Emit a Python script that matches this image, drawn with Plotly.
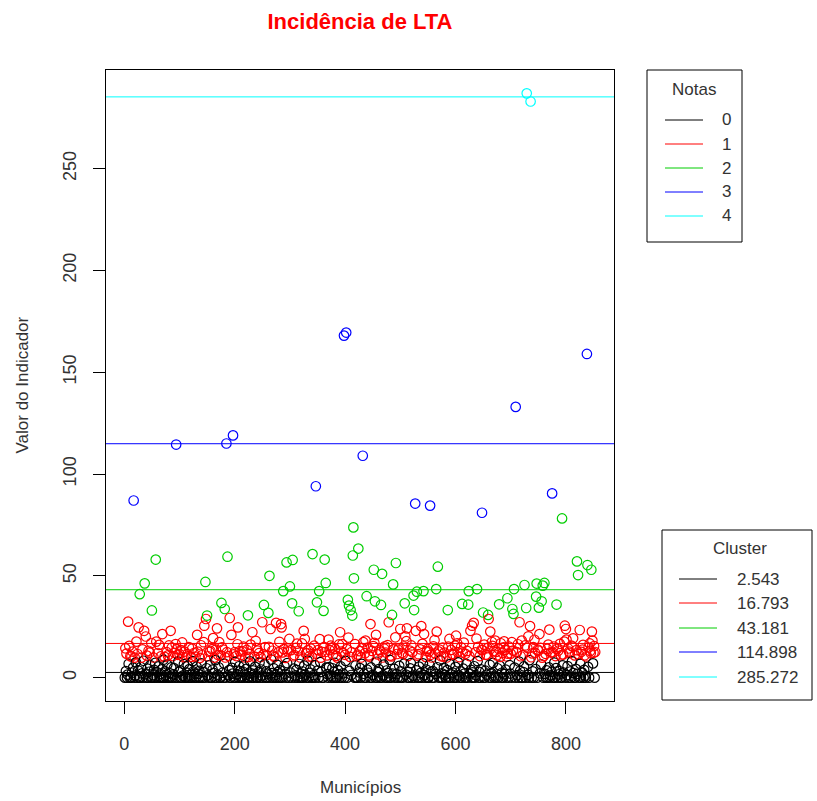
import plotly.graph_objects as go

# ---------------------------------------------------------------
# Incidência de LTA por município (853 municípios), agrupada em
# 5 clusters (k-means).  Cada cluster é uma lista de pares
# (índice do município, valor do indicador); o cluster 0 guarda só
# os valores, distribuídos nos índices que sobram em ordem.
# ---------------------------------------------------------------
N_MUNICIPIOS = 853

notas = ["0", "1", "2", "3", "4"]
centros = [2.543, 16.793, 43.181, 114.898, 285.272]
cores = ["#000000", "#FF0000", "#00CD00", "#0000FF", "#00FFFF"]

ciano = [(729, 287.0), (736, 283.0)]

azul = [(17, 87.0), (94, 114.5), (185, 115.0), (197, 119.0), (347, 94.0),
        (398, 168.0), (402, 169.5), (432, 109.0), (527, 85.5), (554, 84.5),
        (648, 81.0), (709, 133.0), (775, 90.5), (838, 159.0)]

verde = [(28, 41.0), (37, 46.3), (50, 33.0), (57, 58.0), (147, 47.0),
         (150, 30.5), (176, 36.7), (182, 33.7), (187, 59.4), (224, 30.6),
         (253, 35.7), (261, 31.8), (263, 50.0), (288, 42.5), (294, 56.6),
         (300, 44.8), (304, 36.5), (305, 57.8), (316, 32.6), (341, 60.7),
         (349, 37.0), (353, 42.5), (361, 32.8), (363, 58.0), (365, 46.5),
         (405, 38.2), (407, 35.4), (410, 33.2), (413, 30.5), (414, 60.0),
         (415, 73.8), (416, 48.8), (424, 63.4), (439, 40.0), (452, 53.0),
         (454, 37.5), (465, 35.7), (467, 51.0), (485, 30.8), (487, 45.8),
         (492, 56.3), (508, 36.5), (524, 40.3), (525, 33.2), (530, 42.2),
         (542, 42.5), (565, 43.5), (568, 54.5), (586, 33.2), (612, 36.2),
         (623, 35.9), (624, 42.5), (639, 43.5), (650, 32.0), (659, 30.8),
         (679, 36.0), (694, 39.0), (703, 33.7), (705, 31.3), (706, 43.5),
         (725, 45.5), (728, 34.2), (746, 39.8), (747, 46.2), (751, 34.4),
         (756, 37.5), (758, 45.2), (761, 46.5), (783, 35.9), (793, 78.2),
         (820, 57.1), (822, 50.4), (839, 55.3), (846, 53.0)]

vermelho = [
    (2, 14.4), (4, 11.8), (7, 27.5), (9, 15.6), (11, 10.5), (13, 10.4),
    (15, 12.8), (19, 9.8), (22, 17.7), (24, 11.6), (26, 24.7), (31, 9.8),
    (33, 13.9), (36, 23.0), (39, 20.2), (41, 10.8), (44, 13.2), (46, 12.3),
    (49, 17.0), (53, 9.9), (58, 17.7), (61, 12.1), (63, 16.1), (66, 10.4),
    (69, 21.4), (73, 10.2), (77, 12.5), (79, 10.9), (81, 15.8), (84, 23.0),
    (86, 14.7), (88, 10.6), (91, 12.2), (93, 16.5), (95, 14.0), (97, 11.2),
    (100, 11.6),
    (103, 13.5), (105, 17.3), (107, 10.0), (109, 12.8), (112, 10.0),
    (114, 11.5), (117, 15.0), (121, 10.2), (123, 14.2), (126, 12.0),
    (129, 10.3), (132, 21.0), (133, 12.8), (137, 9.7), (139, 15.9),
    (141, 11.0), (144, 17.4), (145, 25.5), (148, 28.8), (152, 10.5),
    (154, 12.7), (156, 13.1), (159, 14.0), (161, 19.4), (163, 9.8),
    (166, 13.8), (168, 24.2), (170, 11.1), (172, 17.4), (175, 10.9),
    (177, 14.9), (179, 13.8), (183, 9.9), (186, 12.5), (189, 10.6),
    (191, 29.3), (194, 21.0), (198, 11.4), (200, 12.5),
    (203, 10.6), (205, 16.4), (206, 24.7), (209, 13.0), (212, 11.2),
    (214, 12.9), (216, 15.2), (219, 9.9), (222, 13.6), (225, 10.2),
    (227, 11.5), (229, 16.2), (232, 22.3), (236, 10.3), (238, 18.1),
    (240, 14.5), (242, 13.3), (244, 12.0), (247, 10.1), (250, 27.2),
    (252, 11.4), (255, 15.0), (258, 11.1), (262, 15.1), (265, 23.9),
    (268, 13.2), (270, 10.8), (272, 10.1), (275, 26.9), (279, 12.4),
    (281, 17.6), (284, 26.3), (285, 24.7), (287, 12.4), (289, 14.0),
    (292, 9.7), (296, 12.9), (297, 14.3), (299, 19.0), (302, 13.5),
    (306, 10.5), (308, 11.1), (311, 14.6), (313, 16.7), (315, 13.2),
    (319, 9.9),
    (322, 16.8), (325, 23.0), (327, 19.0), (329, 11.9), (331, 12.1),
    (333, 13.4), (335, 10.4), (338, 14.2), (340, 10.1), (344, 15.7),
    (348, 11.7), (351, 13.5), (354, 18.9), (356, 9.8), (358, 12.7),
    (362, 15.0), (364, 12.6), (367, 10.9), (370, 18.7), (372, 13.5),
    (374, 15.7), (376, 14.8), (378, 11.3), (382, 14.1), (384, 10.7),
    (386, 9.8), (389, 16.3), (391, 22.3), (393, 12.8), (395, 16.5),
    (397, 12.1), (400, 11.2),
    (403, 14.0), (406, 19.7), (409, 10.2), (412, 12.6), (418, 16.5),
    (421, 10.5), (423, 11.3), (426, 13.0), (429, 9.9), (431, 14.5),
    (433, 17.4), (436, 12.0), (437, 18.2), (441, 14.7), (443, 10.9),
    (444, 10.3), (446, 26.3), (449, 13.1), (451, 15.5), (453, 17.1),
    (456, 21.0), (459, 11.4), (462, 13.6), (464, 12.8), (468, 9.9),
    (471, 14.2), (472, 15.4), (474, 12.3), (477, 16.0), (479, 27.2),
    (482, 10.8), (484, 10.4), (488, 13.9), (491, 19.8), (494, 11.6),
    (496, 13.7), (497, 14.4),
    (500, 23.9), (503, 12.2), (505, 11.6), (506, 15.3), (509, 20.3),
    (511, 17.9), (512, 24.2), (514, 10.7), (517, 13.3), (520, 15.8),
    (522, 12.5), (528, 23.0), (531, 10.8), (533, 11.5), (536, 13.9),
    (538, 25.3), (540, 16.6), (543, 21.4), (546, 10.2), (548, 13.1),
    (549, 14.1), (552, 12.8), (555, 11.2), (557, 9.9), (560, 15.4),
    (562, 18.4), (563, 11.9), (566, 22.6), (569, 12.9), (571, 13.8),
    (574, 10.5), (577, 14.8), (578, 10.3), (580, 12.3), (584, 9.9),
    (587, 15.2), (589, 19.0), (592, 13.6), (594, 11.7), (596, 11.2),
    (599, 15.7),
    (601, 20.6), (603, 16.9), (604, 12.5), (607, 10.1), (610, 14.9),
    (613, 12.3), (615, 17.2), (618, 11.7), (621, 13.1), (625, 10.6),
    (627, 23.0), (630, 25.5), (633, 26.9), (636, 12.4), (638, 19.2),
    (641, 15.1), (644, 10.6), (647, 13.7), (649, 13.5), (652, 16.2),
    (655, 11.3), (657, 11.1), (658, 14.5), (660, 28.8), (663, 22.6),
    (666, 17.5), (667, 15.6), (669, 12.9), (672, 18.2), (674, 12.7),
    (675, 10.9), (678, 14.2), (681, 10.2), (682, 16.9), (685, 12.1),
    (687, 14.9), (688, 17.8), (690, 13.6), (693, 10.4), (695, 11.8),
    (697, 15.2), (700, 11.8),
    (702, 17.4), (704, 13.3), (710, 12.6), (711, 12.5), (713, 16.4),
    (716, 27.2), (718, 10.5), (720, 18.2), (722, 11.1), (726, 15.8),
    (730, 14.7), (732, 20.3), (735, 25.3), (737, 10.0), (739, 11.9),
    (741, 15.0), (743, 18.6), (744, 12.2), (749, 13.8), (750, 13.2),
    (752, 21.4), (754, 14.6), (757, 9.8), (760, 10.7), (763, 11.7),
    (766, 14.1), (768, 16.2), (770, 23.6), (773, 12.4), (776, 12.4),
    (778, 15.3), (781, 10.6), (784, 14.1), (786, 13.2), (789, 16.6),
    (791, 10.9), (795, 11.4), (797, 17.7), (798, 25.5), (800, 23.9),
    (801, 18.7), (804, 14.3), (806, 12.8), (807, 12.1), (810, 15.7),
    (812, 15.3), (813, 19.3), (816, 10.9), (819, 13.5), (823, 11.5),
    (825, 23.4), (828, 12.7), (830, 13.8), (831, 16.1), (834, 11.0),
    (837, 10.4), (841, 14.8), (843, 16.8), (844, 13.1), (845, 12.0),
    (847, 22.6), (848, 18.2), (850, 12.2), (851, 15.5), (853, 12.6),
]

valores_preto = [
    0, 3.2, 0, 1.5, 6.8, 0, 0, 2.4, 4.9, 0, 1.1, 7.5, 0, 3.6, 0, 0, 5.2, 2.1, 0, 8.3, 1.7, 0, 4.4, 0, 2.9,
    6.1, 0, 0, 1.3, 3.8, 0, 7.2, 0, 2.6, 5.5, 0, 1.9, 0, 4.1, 0, 8.8, 0, 3.1, 1.2, 0, 6.4, 0, 2.2, 0, 5.0,
    0, 1.6, 4.7, 0, 0, 7.9, 2.8, 0, 3.4, 0, 1.0, 6.6, 0, 0, 2.5, 5.8, 0, 4.2, 0, 1.4, 0, 8.1, 3.0, 0, 2.0,
    0, 5.4, 1.8, 0, 3.3, 0, 7.0, 0, 2.7, 0, 4.6, 1.1, 0, 6.2, 0, 0, 3.9, 2.3, 0, 8.6, 0, 1.5, 5.1, 0, 0,
    2.4, 0, 6.9, 0, 1.2, 3.7, 0, 0, 4.8, 2.0, 0, 7.7, 0, 1.7, 0, 5.6, 3.2, 0, 0, 2.9, 6.0, 0, 1.3, 4.3, 0,
    0, 8.0, 2.1, 0, 3.5, 0, 1.6, 5.3, 0, 0, 2.6, 7.4, 0, 4.0, 1.0, 0, 6.5, 0, 3.1, 0, 1.9, 0, 8.9, 2.2, 0,
    4.5, 0, 1.4, 0, 6.3, 2.7, 0, 3.6, 0, 0, 5.7, 1.8, 0, 7.1, 0, 2.5, 0, 4.4, 0, 1.1, 3.8, 0, 6.7, 0, 2.0,
    0, 3.0, 0, 5.9, 1.5, 0, 8.4, 0, 2.3, 4.1, 0, 0, 1.2, 6.1, 0, 3.4, 0, 7.6, 2.8, 0, 0, 4.9, 1.7, 0, 5.2,
    1.0, 0, 4.6, 0, 2.9, 7.3, 0, 0, 3.7, 1.6, 0, 5.5, 0, 2.1, 0, 8.2, 0, 3.3, 1.3, 0, 6.0, 0, 0, 2.6, 4.7,
    0, 6.8, 1.9, 0, 0, 3.9, 2.4, 0, 5.0, 0, 1.4, 0, 7.8, 0, 2.7, 4.2, 0, 0, 1.1, 6.4, 0, 3.5, 0, 2.2, 0,
    8.7, 0, 2.0, 4.3, 0, 1.7, 0, 5.8, 0, 3.1, 0, 0, 6.9, 1.5, 0, 2.8, 0, 4.5, 7.1, 0, 1.0, 0, 3.6, 0, 5.4,
    0, 2.3, 0, 7.0, 1.2, 0, 4.0, 0, 0, 6.2, 2.9, 0, 3.2, 0, 1.8, 5.1, 0, 8.5, 0, 2.1, 0, 4.8, 1.4, 0, 0,
    3.7, 0, 6.6, 0, 1.6, 2.5, 0, 0, 5.3, 0, 7.5, 1.1, 0, 3.0, 0, 4.4, 2.0, 0, 0, 6.7, 0, 1.9, 3.8, 0, 2.6,
    0, 5.6, 0, 1.3, 8.1, 0, 2.8, 0, 4.1, 0, 0, 3.4, 1.5, 0, 6.3, 0, 2.2, 7.2, 0, 1.0, 0, 4.6, 0, 5.9, 0,
    2.4, 0, 1.7, 3.9, 0, 0, 6.1, 2.0, 0, 4.9, 0, 1.2, 0, 7.9, 3.3, 0, 0, 2.7, 5.5, 0, 1.4, 0, 8.6, 0, 3.1,
    0, 4.2, 0, 2.1, 6.5, 0, 1.8, 0, 3.6, 0, 5.0, 0, 1.1, 2.9, 0, 7.4, 0, 4.7, 0, 1.6, 3.2, 0, 0, 6.0, 2.5,
    0, 1.3, 5.7, 0, 3.0, 0, 8.0, 2.2, 0, 0, 4.3, 1.9, 0, 6.8, 0, 2.6, 0, 3.8, 1.0, 0, 5.3, 0, 7.0, 0, 1.5,
    4.0, 0, 2.8, 0, 1.2, 6.2, 0, 3.5, 0, 0, 2.0, 7.7, 0, 4.5, 1.7, 0, 5.8, 0, 2.3, 0, 3.9, 8.3, 0, 1.4, 0,
    0, 3.3, 0, 6.6, 2.1, 0, 1.6, 4.8, 0, 0, 7.1, 2.7, 0, 3.0, 0, 5.2, 1.1, 0, 6.4, 0, 2.4, 0, 4.1, 0, 1.8,
    5.5, 0, 2.9, 0, 0, 8.8, 1.3, 0, 3.7, 0, 4.4, 0, 2.0, 6.9, 0, 1.5, 0, 3.4, 0, 7.3, 2.6, 0, 5.0, 0, 1.0,
    0, 2.2, 6.1, 0, 3.6, 0, 1.7, 0, 4.9, 7.6, 0, 2.5, 0, 1.2, 5.4, 0, 3.1, 0, 0, 6.3, 1.9, 0, 4.2, 2.8, 0,
    3.0, 0, 1.4, 5.7, 0, 2.0, 0, 7.9, 0, 3.8, 1.1, 0, 4.6, 0, 6.0, 2.3, 0, 1.6, 8.2, 0, 3.5, 0, 2.7, 0, 5.1,
]

# ---- monta a tabela município -> (valor, cluster) ----------------
tabela = {}
for k, grupo in ((1, vermelho), (2, verde), (3, azul), (4, ciano)):
    for mun, val in grupo:
        tabela[mun] = (val, k)
livres = [m for m in range(1, N_MUNICIPIOS + 1) if m not in tabela]
for mun, val in zip(livres, valores_preto):
    tabela[mun] = (val, 0)

municipios = sorted(tabela)
valores = [tabela[m][0] for m in municipios]
cor_ponto = [cores[tabela[m][1]] for m in municipios]

# faixa dos eixos com 4% de folga, como no R
def faixa(v):
    lo, hi = min(v), max(v)
    d = (hi - lo) * 0.04
    return [lo - d, hi + d]

FONTE = "Liberation Sans, Arial, Helvetica, sans-serif"
TXT = "#333333"

fig = go.Figure()
fig.add_trace(go.Scatter(
    x=municipios, y=valores, mode="markers",
    marker=dict(symbol="circle-open", size=9.5, color=cor_ponto,
                line=dict(width=1.2)),
    hoverinfo="x+y", showlegend=False,
))

# linhas horizontais nos centros dos clusters
for c, cor in zip(centros, cores):
    fig.add_shape(type="line", xref="paper", x0=0, x1=1, yref="y", y0=c, y1=c,
                  line=dict(color=cor, width=1))

# ---- geometria da área de plotagem (px) -------------------------
L, R, T, B = 106, 614, 70, 701
W, H = 817, 801
def xp(px):
    return (px - L) / (R - L)
def yp(py):
    return (B - py) / (B - T)

def caixa_legenda(x0, x1, y0, y1, titulo, tx, ty, lx0, lx1, rotx, linhas_y, rotulos):
    fig.add_shape(type="rect", xref="paper", yref="paper",
                  x0=xp(x0), x1=xp(x1), y0=yp(y1), y1=yp(y0),
                  line=dict(color="#000000", width=1), fillcolor="white", layer="above")
    fig.add_annotation(x=xp(tx), y=yp(ty), xref="paper", yref="paper", text=titulo,
                       showarrow=False, xanchor="center", yanchor="middle",
                       font=dict(family=FONTE, size=17, color=TXT))
    for ly, rot, cor in zip(linhas_y, rotulos, cores):
        fig.add_shape(type="line", xref="paper", yref="paper",
                      x0=xp(lx0), x1=xp(lx1), y0=yp(ly), y1=yp(ly),
                      line=dict(color=cor, width=1))
        fig.add_annotation(x=xp(rotx), y=yp(ly), xref="paper", yref="paper", text=rot,
                           showarrow=False, xanchor="left", yanchor="middle",
                           font=dict(family=FONTE, size=17, color=TXT))

caixa_legenda(647, 742, 70, 242, "Notas", 694, 89, 665, 703, 720,
              [120, 144, 168, 192, 216], notas)
caixa_legenda(662, 812, 530, 700, "Cluster", 740, 548, 679, 717, 735,
              [579, 603, 628, 652, 677], [f"{c:.3f}" for c in centros])

# títulos dos eixos
fig.add_annotation(x=0.5, y=0, xref="paper", yref="paper", text="Municípios",
                   showarrow=False, yshift=-(787 - B), yanchor="middle",
                   font=dict(family=FONTE, size=17, color=TXT))
fig.add_annotation(x=0, y=0.5, xref="paper", yref="paper", text="Valor do Indicador",
                   showarrow=False, xshift=-(L - 22), xanchor="center", textangle=-90,
                   font=dict(family=FONTE, size=17, color=TXT))

eixo = dict(showgrid=False, zeroline=False, showline=True, linecolor="#000000",
            linewidth=1, mirror=True, ticks="outside", ticklen=12, tickwidth=1,
            tickcolor="#000000", tickfont=dict(family=FONTE, size=18, color=TXT))

fig.update_layout(
    width=W, height=H, autosize=False,
    margin=dict(l=L, r=W - R, t=T, b=H - B, pad=0),
    plot_bgcolor="white", paper_bgcolor="white",
    title=dict(text="<b>Incidência de LTA</b>", x=xp(360), xref="paper",
               y=1 - 21 / H, yref="container", xanchor="center", yanchor="middle",
               font=dict(family=FONTE, size=22, color="#FF0000")),
    xaxis=dict(eixo, range=faixa(municipios), tickvals=[0, 200, 400, 600, 800],
               ticklabelstandoff=14),
    yaxis=dict(eixo, range=faixa(valores), tickvals=[0, 50, 100, 150, 200, 250],
               tickangle=-90, ticklabelstandoff=10),
    showlegend=False,
)

fig.write_html("out.html")
